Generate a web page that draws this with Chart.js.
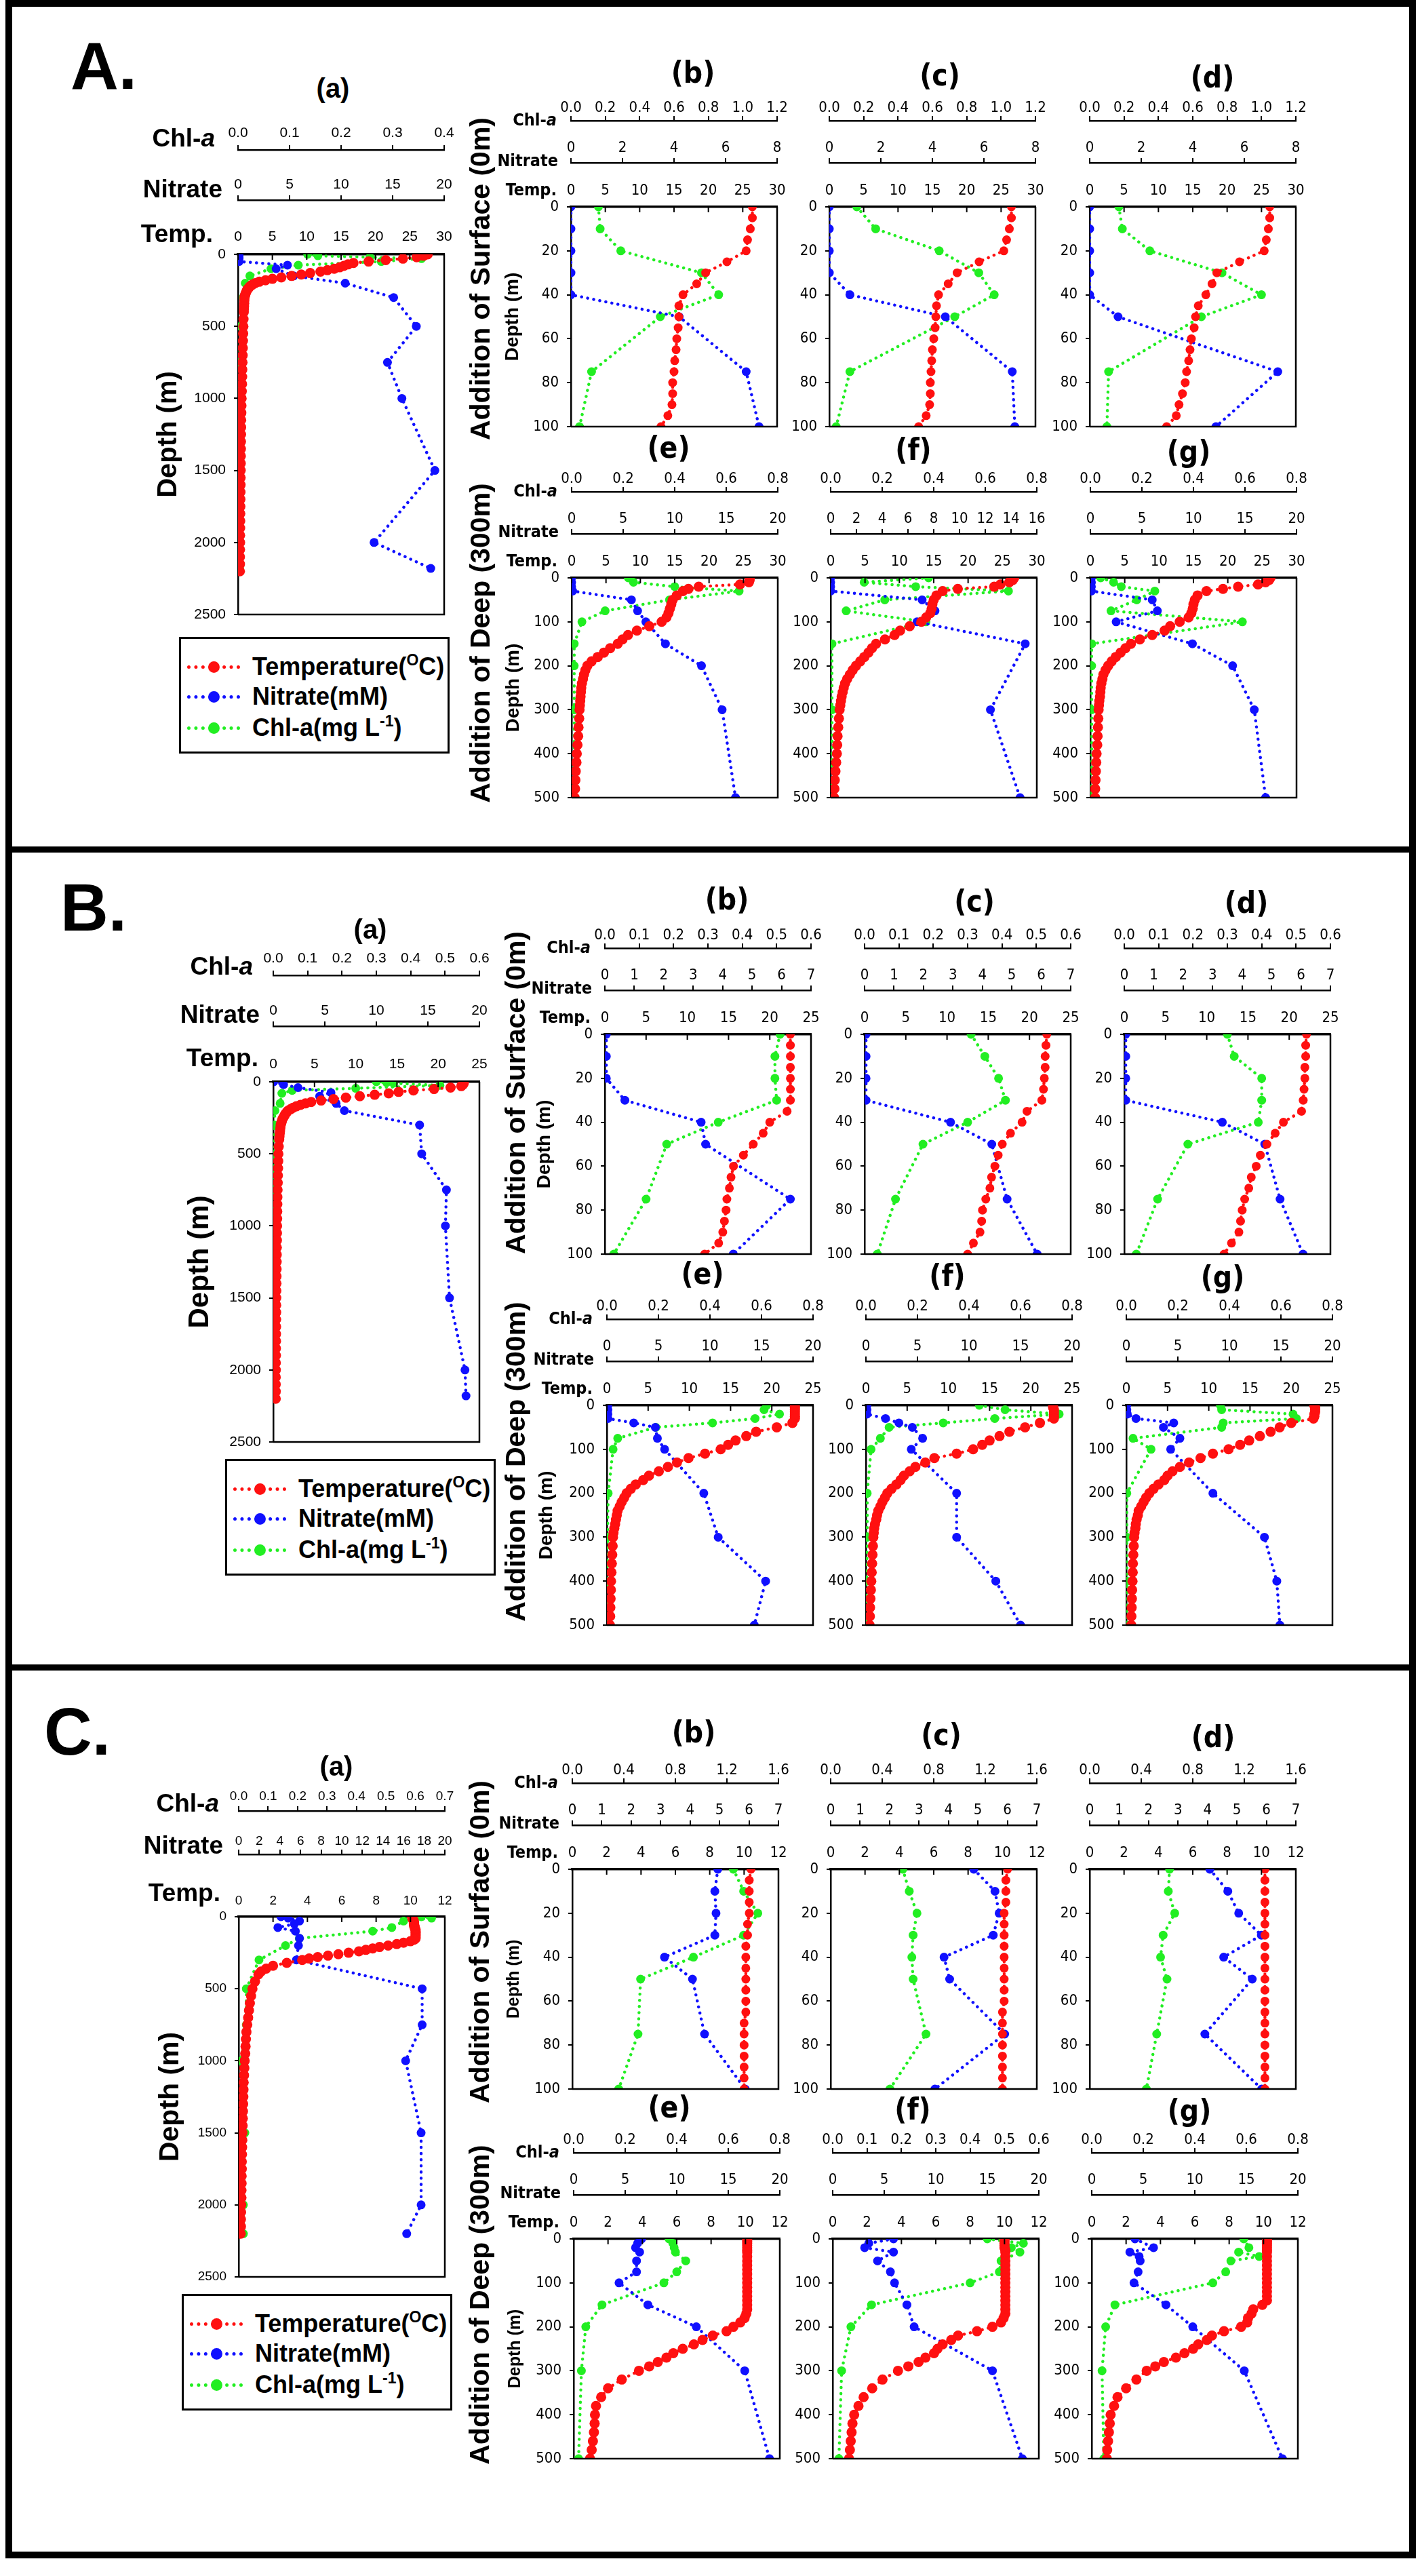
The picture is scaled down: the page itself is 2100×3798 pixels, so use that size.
<!DOCTYPE html>
<html>
<head>
<meta charset="utf-8">
<title>Depth profiles of temperature, nitrate and Chl-a</title>
<script src="https://cdn.jsdelivr.net/npm/chart.js@4.4.1/dist/chart.umd.min.js"></script>
<style>
  html, body { margin: 0; padding: 0; background: #fff; }
  #page { position: relative; width: 2100px; height: 3798px; overflow: hidden; background: #fff; }
  .bar { position: absolute; background: #000; }
  .txt { position: absolute; white-space: nowrap; line-height: 1; color: #000; font-weight: bold; transform: translate(-50%, -50%); }
  .rot { transform: translate(-50%, -50%) rotate(-90deg); }
  canvas { position: absolute; }
  .legend { position: absolute; border: 3px solid #000; box-sizing: border-box; background: #fff; width: 399px; height: 172px; }
  .leg-line { position: absolute; height: 0; width: 78px; border-top: 5px dotted; }
  .leg-dot { position: absolute; width: 17px; height: 17px; border-radius: 50%; }
  .leg-text { position: absolute; font: bold 36px "Liberation Sans", Arial, sans-serif; line-height: 1; white-space: nowrap; transform: translateY(-50%); }
  .leg-text sup { font-size: 23px; vertical-align: 14px; line-height: 0; }
</style>
</head>
<body>
<div id="page"></div>
<script>
// ---------- depth grids (m) ----------
const Z_SURF = [0, 10, 20, 30, 40, 50, 75, 100];
const Z_SURF_T = [0, 5, 10, 15, 20, 25, 30, 35, 40, 45, 50, 55, 60, 65, 70, 75, 80, 85, 90, 95, 100];
const Z_DEEP_T = [0, 5, 10, 15, 20, 25, 30,
  40, 50, 60, 70, 80, 90, 100, 110, 120, 130,
  140, 150, 160, 170, 180, 190, 200, 210, 220, 230,
  240, 250, 260, 270, 280, 290, 300,
  320, 340, 360, 380, 400, 420, 440, 460, 480, 500];
const Z_PROF_T = [0, 10, 20, 30, 40, 50, 60, 70, 80, 90,
  100, 110, 120, 130, 140, 150, 160, 170, 180, 190,
  200, 210, 220, 230, 240, 250, 260, 270, 280, 290,
  300, 320, 340, 360, 380, 400, 450, 500,
  550, 600, 650, 700, 750, 800, 850, 900, 950, 1000,
  1050, 1100, 1150, 1200, 1250, 1300, 1350, 1400, 1450, 1500,
  1550, 1600, 1650, 1700, 1750, 1800, 1850, 1900, 1950, 2000,
  2050, 2100, 2150, 2200];
const Z_A_PROF = [0, 10, 20, 30, 50, 75, 100, 150, 200, 300, 500, 750, 1000, 1500, 2000, 2180];
const Z_B_PROF_N = [0, 20, 40, 75, 100, 150, 200, 300, 500, 750, 1000, 1500, 2000, 2180];
const Z_B_PROF_C = [0, 5, 10, 25, 45, 60, 80, 150, 200, 300, 500, 750, 1000, 1500, 2000, 2180];
const Z_C_PROF_N = [0, 10, 30, 50, 75, 100, 150, 200, 300, 500, 750, 1000, 1500, 2000, 2200];
const Z_C_PROF_C = [0, 10, 30, 75, 100, 150, 200, 300, 500, 750, 1000, 1500, 2000, 2200];
const Z_A_DEEP = [0, 10, 20, 30, 50, 75, 100, 150, 200, 300, 500];
const Z_A_DEEP_F = [0, 10, 20, 30, 50, 75, 100, 150, 300, 500];
const Z_B_DEEP = [0, 10, 20, 30, 40, 50, 75, 100, 200, 300, 400, 500];
const Z_C_DEEP = [0, 10, 20, 30, 50, 75, 100, 150, 200, 300, 500];
const Z_C_DEEP_G = [0, 20, 30, 40, 50, 75, 100, 150, 200, 300, 500];

// ---------- tick labels ----------
const T_0_30 = [0, 5, 10, 15, 20, 25, 30];
const T_0_25 = [0, 5, 10, 15, 20, 25];
const T_0_12 = [0, 2, 4, 6, 8, 10, 12];
const N_0_8 = [0, 2, 4, 6, 8];
const N_0_16 = [0, 2, 4, 6, 8, 10, 12, 14, 16];
const N_0_20 = [0, 5, 10, 15, 20];
const N_0_20_BY2 = [0, 2, 4, 6, 8, 10, 12, 14, 16, 18, 20];
const N_0_7 = [0, 1, 2, 3, 4, 5, 6, 7];
const C_0_04 = [0, 0.1, 0.2, 0.3, 0.4];
const C_0_06 = [0, 0.1, 0.2, 0.3, 0.4, 0.5, 0.6];
const C_0_07 = [0, 0.1, 0.2, 0.3, 0.4, 0.5, 0.6, 0.7];
const C_0_08 = [0, 0.2, 0.4, 0.6, 0.8];
const C_0_12 = [0, 0.2, 0.4, 0.6, 0.8, 1.0, 1.2];
const C_0_16 = [0, 0.4, 0.8, 1.2, 1.6];
const D_PROF = [0, 500, 1000, 1500, 2000, 2500];
const D_SURF = [0, 20, 40, 60, 80, 100];
const D_DEEP = [0, 100, 200, 300, 400, 500];

// ---------- A : profiles ----------
const A_a_t = [27.6, 27.0, 26.0, 24.0, 21.5, 19.0, 16.8, 16.0, 15.4, 14.8,
  14.0, 13.0, 12.0, 10.5, 9.2, 7.8, 6.3, 5.0, 4.0, 3.1,
  2.5, 2.1, 1.8, 1.6, 1.4, 1.3, 1.2, 1.12, 1.05, 1.0,
  0.95, 0.92, 0.9, 0.88, 0.86, 0.84, 0.8, 0.78,
  0.75, 0.72, 0.7, 0.68, 0.65, 0.62, 0.6, 0.58, 0.55, 0.52,
  0.5, 0.48, 0.46, 0.45, 0.44, 0.43, 0.42, 0.41, 0.4, 0.39,
  0.38, 0.37, 0.36, 0.35, 0.34, 0.33, 0.32, 0.31, 0.3, 0.3,
  0.29, 0.28, 0.28, 0.27];
const A_a_no3 = [0.1, 0.1, 0.1, 0.1, 0.1, 4.8, 3.7, 5.4, 10.4, 15.1, 17.3, 14.5, 15.9, 19.1, 13.2, 18.7];
const A_a_chl = [0.135, 0.155, 0.256, 0.356, 0.278, 0.117, 0.064, 0.023, 0.014, 0.01, 0.005, 0.003, 0.003, 0.003, 0.003, 0.003];

const A_b_t = [26.4, 26.4, 26.1, 25.7, 25.5, 22.7, 19.6, 18.3, 16.3, 15.7, 15.7, 15.6, 15.4, 15.3, 15.1, 15.0, 14.8, 14.8, 14.7, 14.1, 13.1];
const A_b_no3 = [0, 0, 0, 0, 0, 4.2, 6.8, 7.3];
const A_b_chl = [0.16, 0.17, 0.29, 0.76, 0.86, 0.52, 0.12, 0.05];
const A_c_t = [26.5, 26.5, 26.2, 25.8, 25.4, 21.8, 18.6, 17.3, 15.9, 15.6, 15.5, 15.4, 15.2, 15.0, 14.9, 14.8, 14.7, 14.7, 14.6, 14.1, 13.0];
const A_c_no3 = [0, 0, 0, 0, 0.8, 4.5, 7.1, 7.2];
const A_c_chl = [0.16, 0.27, 0.64, 0.87, 0.96, 0.73, 0.12, 0.04];
const A_d_t = [26.2, 26.2, 26.0, 25.7, 25.4, 21.8, 18.5, 17.8, 16.9, 15.8, 15.4, 15.2, 14.8, 14.6, 14.4, 14.1, 13.9, 13.5, 13.0, 12.6, 11.2];
const A_d_no3 = [0, 0, 0, 0, 0, 1.1, 7.3, 4.9];
const A_d_chl = [0.17, 0.19, 0.35, 0.77, 1.0, 0.65, 0.11, 0.1];

const A_e_t = [25.9, 25.9, 25.8, 24.5, 18.5, 17.0, 16.2,
  15.3, 14.7, 14.5, 14.3, 14.1, 13.8, 13.1, 11.3, 9.5, 8.2,
  7.4, 6.7, 5.6, 4.7, 3.8, 2.9, 2.3, 2.0, 1.8, 1.65,
  1.5, 1.4, 1.35, 1.3, 1.25, 1.2, 1.15,
  1.1, 1.0, 0.95, 0.85, 0.75, 0.7, 0.6, 0.55, 0.5, 0.45];
const A_e_no3 = [0, 0, 0, 0.1, 5.8, 6.4, 7.2, 9.1, 12.6, 14.6, 15.9];
const A_e_chl = [0.22, 0.24, 0.40, 0.65, 0.38, 0.13, 0.04, 0.01, 0.01, 0.01, 0.01];
const A_f_t = [26.7, 26.5, 26.0, 24.7, 23.8, 18.5, 16.3,
  15.4, 15.0, 14.8, 14.7, 14.5, 13.9, 13.2, 11.5, 10.1, 9.3,
  7.9, 6.6, 6.0, 5.5, 4.9, 4.3, 3.7, 3.2, 2.8, 2.4,
  2.1, 1.9, 1.75, 1.6, 1.5, 1.4, 1.3,
  1.2, 1.1, 1.0, 0.95, 0.9, 0.8, 0.7, 0.6, 0.55, 0.5];
const A_f_no3 = [0, 0, 0, 0, 7.1, 8.1, 6.7, 15.1, 12.4, 14.7];
const A_f_chl = [0.38, 0.13, 0.33, 0.69, 0.21, 0.06, 0.37, 0.005, 0.005, 0.005];
const A_g_t = [26.2, 26.0, 25.5, 24.4, 21.5, 19.3, 16.9,
  15.6, 15.2, 15.0, 14.9, 14.7, 14.3, 13.0, 11.6, 10.8, 9.0,
  7.2, 5.9, 5.1, 4.4, 3.7, 3.1, 2.6, 2.2, 1.9, 1.75,
  1.6, 1.5, 1.45, 1.4, 1.3, 1.25, 1.2,
  1.15, 1.1, 1.05, 1.0, 0.9, 0.85, 0.8, 0.75, 0.7, 0.7];
const A_g_no3 = [0.1, 0.1, 0.1, 0.1, 6.0, 6.5, 2.5, 9.9, 13.8, 15.9, 17.0];
const A_g_chl = [0.04, 0.09, 0.12, 0.25, 0.18, 0.08, 0.59, 0.005, 0.005, 0.005, 0.005];

// ---------- B ----------
const B_a_t = [23.1, 23.1, 23.0, 22.8, 21.5, 19.5, 17.0, 15.2, 14.0, 12.3,
  10.5, 8.8, 7.3, 5.8, 4.6, 3.9, 3.3, 2.8, 2.4, 2.1,
  1.8, 1.65, 1.5, 1.4, 1.3, 1.2, 1.1, 1.05, 1.0, 0.95,
  0.9, 0.86, 0.82, 0.78, 0.75, 0.72, 0.66, 0.62,
  0.6, 0.58, 0.56, 0.54, 0.52, 0.5, 0.49, 0.48, 0.47, 0.46,
  0.45, 0.44, 0.43, 0.42, 0.41, 0.4, 0.39, 0.38, 0.37, 0.36,
  0.35, 0.35, 0.34, 0.34, 0.33, 0.33, 0.32, 0.32, 0.31, 0.31,
  0.3, 0.3, 0.3, 0.3];
const B_a_no3 = [0.05, 1.0, 2.4, 5.6, 4.5, 6.1, 6.9, 14.2, 14.4, 16.8, 16.7, 17.1, 18.6, 18.7];
const B_a_chl = [0.30, 0.33, 0.35, 0.485, 0.24, 0.055, 0.025, 0.02, 0.005, 0.003, 0.003, 0.002, 0.002, 0.002, 0.002, 0.002];

const B_b_t = [22.5, 22.5, 22.5, 22.5, 22.5, 22.5, 22.5, 22.1, 20.0, 19.2, 18.0, 16.8, 15.6, 15.3, 15.1, 14.8, 14.7, 14.5, 14.3, 13.8, 12.1];
const B_b_no3 = [0.05, 0.05, 0.05, 0.68, 3.27, 3.42, 6.3, 4.36];
const B_b_chl = [0.51, 0.495, 0.495, 0.50, 0.33, 0.18, 0.12, 0.026];
const B_c_t = [22.1, 22.0, 21.9, 21.9, 21.8, 21.7, 21.5, 19.7, 19.1, 17.7, 16.7, 16.2, 15.8, 15.4, 15.2, 14.7, 14.3, 14.2, 14.0, 13.2, 12.5];
const B_c_no3 = [0.05, 0.05, 0.05, 0.05, 2.92, 4.32, 4.84, 5.86];
const B_c_chl = [0.31, 0.35, 0.39, 0.41, 0.30, 0.17, 0.09, 0.037];
const B_d_t = [22.1, 22.0, 22.0, 21.9, 21.9, 21.8, 21.7, 21.5, 19.3, 18.3, 17.3, 16.5, 16.0, 15.4, 15.1, 14.6, 14.3, 14.1, 13.9, 13.0, 12.1];
const B_d_no3 = [0.05, 0.05, 0.05, 0.05, 3.33, 4.77, 5.29, 6.07];
const B_d_chl = [0.30, 0.32, 0.40, 0.40, 0.39, 0.185, 0.097, 0.035];

const B_e_t = [22.8, 22.8, 22.8, 22.8, 22.8, 22.8, 22.8,
  22.5, 20.6, 18.1, 16.9, 15.6, 14.7, 13.8, 11.9, 9.9, 8.5,
  7.4, 6.3, 5.1, 4.4, 3.5, 2.9, 2.4, 2.1, 1.8, 1.55,
  1.3, 1.2, 1.1, 1.0, 0.9, 0.8, 0.74,
  0.7, 0.65, 0.6, 0.55, 0.5, 0.48, 0.45, 0.42, 0.4, 0.37];
const B_e_no3 = [0.1, 0.1, 0.1, 0.1, 2.6, 4.7, 4.9, 5.6, 9.4, 10.8, 15.4, 14.3];
const B_e_chl = [0.62, 0.61, 0.67, 0.575, 0.41, 0.19, 0.042, 0.024, 0.005, 0.002, 0.002, 0.002];
const B_f_t = [22.7, 22.7, 22.8, 22.8, 22.8, 22.8, 22.8,
  21.1, 19.3, 17.4, 16.2, 15.0, 14.1, 13.0, 11.0, 8.3, 7.2,
  6.0, 5.3, 4.6, 4.2, 3.7, 3.1, 2.6, 2.3, 2.0, 1.75,
  1.5, 1.35, 1.25, 1.1, 1.0, 0.95, 0.9,
  0.85, 0.8, 0.75, 0.7, 0.65, 0.6, 0.55, 0.5, 0.48, 0.45];
const B_f_no3 = [0.1, 0.1, 0.1, 1.9, 3.2, 4.5, 5.5, 4.4, 8.8, 8.8, 12.6, 15.0];
const B_f_chl = [0.44, 0.54, 0.75, 0.50, 0.30, 0.09, 0.056, 0.02, 0.005, 0.005, 0.002, 0.005];
const B_g_t = [22.8, 22.9, 22.9, 22.9, 22.8, 22.8, 22.7,
  20.0, 18.6, 17.5, 16.2, 14.9, 13.8, 12.4, 10.5, 9.0, 7.6,
  6.5, 5.6, 5.0, 4.6, 3.9, 3.3, 2.8, 2.4, 2.1, 1.8,
  1.5, 1.4, 1.25, 1.15, 1.1, 1.0, 0.95,
  0.9, 0.85, 0.8, 0.78, 0.75, 0.7, 0.68, 0.65, 0.62, 0.6];
const B_g_no3 = [0.05, 0.05, 0.1, 0.94, 4.6, 3.6, 5.2, 4.3, 8.4, 13.4, 14.6, 14.9];
const B_g_chl = [0.365, 0.37, 0.647, 0.66, 0.376, 0.37, 0.026, 0.096, 0.002, 0.002, 0.002, 0.002];

// ---------- C ----------
const C_a_t = [10.1, 10.1, 10.15, 10.2, 10.2, 10.2, 10.2, 10.25, 10.25, 10.3,
  10.3, 10.3, 10.3, 10.3, 10.3, 10.3, 10.2, 10.0, 9.6, 9.2,
  8.7, 8.2, 7.8, 7.4, 7.0, 6.4, 5.8, 5.2, 4.6, 4.1,
  3.7, 2.8, 2.0, 1.6, 1.3, 1.15, 0.95, 0.8,
  0.72, 0.65, 0.6, 0.55, 0.5, 0.45, 0.42, 0.4, 0.38, 0.35,
  0.33, 0.31, 0.29, 0.28, 0.27, 0.26, 0.25, 0.24, 0.23, 0.22,
  0.21, 0.2, 0.19, 0.18, 0.18, 0.17, 0.17, 0.16, 0.16, 0.15,
  0.14, 0.13, 0.13, 0.12];
const C_a_no3 = [4.1, 4.8, 5.9, 5.4, 3.8, 5.5, 5.9, 5.8, 5.6, 17.8, 17.8, 16.2, 17.7, 17.7, 16.3];
const C_a_chl = [0.62, 0.655, 0.56, 0.52, 0.455, 0.206, 0.159, 0.069, 0.026, 0.026, 0.008, 0.021, 0.016, 0.016];

const C_b_t = [10.4, 10.3, 10.3, 10.3, 10.3, 10.2, 10.2, 10.1, 10.1, 10.1, 10.1, 10.1, 10.1, 10.1, 10.0, 10.0, 10.0, 10.0, 10.0, 10.0, 10.0];
const C_b_no3 = [4.94, 4.84, 4.88, 4.84, 3.13, 4.08, 4.49, 5.87];
const C_b_chl = [1.25, 1.33, 1.44, 1.33, 0.94, 0.53, 0.51, 0.36];
const C_c_t = [10.3, 10.2, 10.2, 10.2, 10.1, 10.1, 10.1, 10.1, 10.1, 10.1, 10.1, 10.1, 10.1, 10.0, 10.0, 10.0, 10.0, 10.0, 10.0, 10.0, 10.0];
const C_c_no3 = [4.86, 5.58, 5.72, 5.52, 3.85, 4.04, 5.91, 3.54];
const C_c_chl = [0.56, 0.61, 0.67, 0.64, 0.63, 0.64, 0.74, 0.46];
const C_d_t = [10.2, 10.2, 10.2, 10.2, 10.2, 10.2, 10.2, 10.2, 10.2, 10.2, 10.2, 10.2, 10.2, 10.2, 10.2, 10.2, 10.2, 10.2, 10.2, 10.2, 10.2];
const C_d_no3 = [4.08, 4.69, 5.06, 5.83, 4.55, 5.52, 3.91, 5.84];
const C_d_chl = [0.62, 0.61, 0.66, 0.57, 0.55, 0.60, 0.52, 0.44];

const C_e_t = [10.1, 10.1, 10.1, 10.1, 10.1, 10.1, 10.1,
  10.1, 10.1, 10.1, 10.1, 10.1, 10.1, 10.1, 10.1, 10.1, 10.1,
  10.1, 10.1, 10.1, 10.05, 9.95, 9.7, 9.3, 8.9, 8.1, 7.5,
  7.0, 6.35, 5.8, 5.4, 4.9, 4.4, 3.8,
  2.8, 2.0, 1.6, 1.3, 1.24, 1.22, 1.18, 1.12, 1.05, 0.95];
const C_e_no3 = [6.6, 6.2, 6.0, 6.4, 6.1, 6.1, 4.4, 7.2, 11.9, 16.6, 19.0];
const C_e_chl = [0.37, 0.385, 0.39, 0.395, 0.435, 0.40, 0.35, 0.11, 0.047, 0.03, 0.019];
const C_f_t = [10.0, 10.0, 10.0, 10.0, 10.0, 10.05, 10.05,
  10.05, 10.05, 10.05, 10.05, 10.05, 10.05, 10.05, 10.05, 10.05, 10.05,
  10.05, 10.05, 10.05, 10.05, 9.95, 9.8, 9.3, 8.4, 7.3, 6.9,
  6.4, 6.1, 5.9, 5.4, 5.0, 4.4, 3.8,
  2.9, 2.3, 1.8, 1.5, 1.25, 1.15, 1.1, 1.05, 1.0, 0.95];
const C_f_no3 = [5.9, 3.5, 3.1, 5.9, 4.35, 5.6, 6.0, 7.2, 7.9, 15.5, 18.4];
const C_f_chl = [0.45, 0.555, 0.52, 0.545, 0.49, 0.485, 0.40, 0.113, 0.053, 0.026, 0.018];
const C_g_t = [10.2, 10.2, 10.2, 10.2, 10.2, 10.2, 10.2,
  10.2, 10.2, 10.2, 10.2, 10.2, 10.2, 10.2, 10.2, 10.2, 10.2,
  10.2, 9.93, 9.4, 9.3, 9.1, 9.05, 8.7, 7.7, 7.0, 6.7,
  6.2, 5.9, 5.4, 4.9, 4.2, 3.7, 3.2,
  2.6, 2.0, 1.5, 1.3, 1.1, 1.05, 1.0, 0.95, 0.9, 0.88];
const C_g_no3 = [4.2, 6.0, 3.7, 4.6, 4.7, 4.5, 4.1, 7.2, 9.8, 14.8, 18.5];
const C_g_chl = [0.59, 0.61, 0.57, 0.65, 0.54, 0.52, 0.47, 0.09, 0.054, 0.04, 0.047];

// ---------- which arrays go in which panel ----------
// [tempDepth, temp, no3Depth, no3, chlDepth, chl, tempTicks, no3Ticks, chlTicks, depthTicks]
const PANEL_DATA = {
  Aa: [Z_PROF_T, A_a_t, Z_A_PROF, A_a_no3, Z_A_PROF, A_a_chl, T_0_30, N_0_20, C_0_04, D_PROF],
  Ab: [Z_SURF_T, A_b_t, Z_SURF, A_b_no3, Z_SURF, A_b_chl, T_0_30, N_0_8, C_0_12, D_SURF],
  Ac: [Z_SURF_T, A_c_t, Z_SURF, A_c_no3, Z_SURF, A_c_chl, T_0_30, N_0_8, C_0_12, D_SURF],
  Ad: [Z_SURF_T, A_d_t, Z_SURF, A_d_no3, Z_SURF, A_d_chl, T_0_30, N_0_8, C_0_12, D_SURF],
  Ae: [Z_DEEP_T, A_e_t, Z_A_DEEP, A_e_no3, Z_A_DEEP, A_e_chl, T_0_30, N_0_20, C_0_08, D_DEEP],
  Af: [Z_DEEP_T, A_f_t, Z_A_DEEP_F, A_f_no3, Z_A_DEEP_F, A_f_chl, T_0_30, N_0_16, C_0_08, D_DEEP],
  Ag: [Z_DEEP_T, A_g_t, Z_A_DEEP, A_g_no3, Z_A_DEEP, A_g_chl, T_0_30, N_0_20, C_0_08, D_DEEP],
  Ba: [Z_PROF_T, B_a_t, Z_B_PROF_N, B_a_no3, Z_B_PROF_C, B_a_chl, T_0_25, N_0_20, C_0_06, D_PROF],
  Bb: [Z_SURF_T, B_b_t, Z_SURF, B_b_no3, Z_SURF, B_b_chl, T_0_25, N_0_7, C_0_06, D_SURF],
  Bc: [Z_SURF_T, B_c_t, Z_SURF, B_c_no3, Z_SURF, B_c_chl, T_0_25, N_0_7, C_0_06, D_SURF],
  Bd: [Z_SURF_T, B_d_t, Z_SURF, B_d_no3, Z_SURF, B_d_chl, T_0_25, N_0_7, C_0_06, D_SURF],
  Be: [Z_DEEP_T, B_e_t, Z_B_DEEP, B_e_no3, Z_B_DEEP, B_e_chl, T_0_25, N_0_20, C_0_08, D_DEEP],
  Bf: [Z_DEEP_T, B_f_t, Z_B_DEEP, B_f_no3, Z_B_DEEP, B_f_chl, T_0_25, N_0_20, C_0_08, D_DEEP],
  Bg: [Z_DEEP_T, B_g_t, Z_B_DEEP, B_g_no3, Z_B_DEEP, B_g_chl, T_0_25, N_0_20, C_0_08, D_DEEP],
  Ca: [Z_PROF_T, C_a_t, Z_C_PROF_N, C_a_no3, Z_C_PROF_C, C_a_chl, T_0_12, N_0_20_BY2, C_0_07, D_PROF],
  Cb: [Z_SURF_T, C_b_t, Z_SURF, C_b_no3, Z_SURF, C_b_chl, T_0_12, N_0_7, C_0_16, D_SURF],
  Cc: [Z_SURF_T, C_c_t, Z_SURF, C_c_no3, Z_SURF, C_c_chl, T_0_12, N_0_7, C_0_16, D_SURF],
  Cd: [Z_SURF_T, C_d_t, Z_SURF, C_d_no3, Z_SURF, C_d_chl, T_0_12, N_0_7, C_0_16, D_SURF],
  Ce: [Z_DEEP_T, C_e_t, Z_C_DEEP, C_e_no3, Z_C_DEEP, C_e_chl, T_0_12, N_0_20, C_0_08, D_DEEP],
  Cf: [Z_DEEP_T, C_f_t, Z_C_DEEP, C_f_no3, Z_C_DEEP, C_f_chl, T_0_12, N_0_20, C_0_06, D_DEEP],
  Cg: [Z_DEEP_T, C_g_t, Z_C_DEEP_G, C_g_no3, Z_C_DEEP_G, C_g_chl, T_0_12, N_0_20, C_0_08, D_DEEP]
};

// ---------- page layout ----------
const RED = '#ff1010', BLUE = '#1010ff', GREEN = '#22ee22';
const ARIAL = '"Liberation Sans", Arial, sans-serif';
const NARROW = '"Liberation Sans Narrow", "Arial Narrow", "DejaVu Sans Condensed", sans-serif';

// plot-area corners: [section, panel, kind, left, top]
const PLOTS = [
  ['A', 'a', 'prof', 351, 375], ['A', 'b', 'surf', 842, 305], ['A', 'c', 'surf', 1223, 305], ['A', 'd', 'surf', 1607, 305],
  ['A', 'e', 'deep', 843, 852], ['A', 'f', 'deep', 1225, 852], ['A', 'g', 'deep', 1608, 852],
  ['B', 'a', 'prof', 403, 1595], ['B', 'b', 'surf', 892, 1525], ['B', 'c', 'surf', 1275, 1525], ['B', 'd', 'surf', 1658, 1525],
  ['B', 'e', 'deep', 895, 2072], ['B', 'f', 'deep', 1277, 2072], ['B', 'g', 'deep', 1661, 2072],
  ['C', 'a', 'prof', 352, 2826], ['C', 'b', 'surf', 844, 2756], ['C', 'c', 'surf', 1225, 2756], ['C', 'd', 'surf', 1607, 2756],
  ['C', 'e', 'deep', 846, 3301], ['C', 'f', 'deep', 1228, 3301], ['C', 'g', 'deep', 1610, 3301]
];

const SEC_STYLE = {
  A: {hT: 80, hN: 74, tf: 21, pads: [7, 5, 15], off: [-15, -14, -28], gap: [34, 23, 37], dOff: 102, dFont: 40, sdOff: 86, sdFont: 28},
  B: {hT: 82, hN: 75, tf: 21, pads: [7, 5, 15], off: [-11, -15, -33], gap: [30, 20, 22], dOff: 108, dFont: 42, sdOff: 89, sdFont: 28},
  C: {hT: 92, hN: 64, tf: 19, pads: [5, 3, 14], off: [-9, -11, -33], gap: [29, 23, 27], dOff: 100, dFont: 41, sdOff: 86, sdFont: 25}
};

const page = document.getElementById('page');

function put(cls, html, x, y, font, extra) {
  const d = document.createElement('div');
  d.className = cls;
  d.innerHTML = html;
  d.style.left = x + 'px';
  d.style.top = y + 'px';
  d.style.font = font;
  if (extra) Object.assign(d.style, extra);
  page.appendChild(d);
  return d;
}

function bar(x, y, w, h) {
  const d = document.createElement('div');
  d.className = 'bar';
  Object.assign(d.style, {left: x + 'px', top: y + 'px', width: w + 'px', height: h + 'px'});
  page.appendChild(d);
}

// draws "Chl-a" etc. right-aligned, allowing mixed fonts
function drawName(ctx, parts, right, y) {
  let w = 0;
  parts.forEach(p => { ctx.font = p[1]; w += ctx.measureText(p[0]).width; });
  let x = right - w;
  ctx.textAlign = 'left';
  parts.forEach(p => { ctx.font = p[1]; ctx.fillText(p[0], x, y); x += ctx.measureText(p[0]).width; });
}

const decor = {
  id: 'decor',
  afterDraw(chart, args, o) {
    const {ctx, chartArea: a, scales} = chart;
    ctx.save();
    ctx.strokeStyle = '#000';
    ctx.lineWidth = 2.5;
    ctx.beginPath();
    ctx.moveTo(a.left, a.bottom); ctx.lineTo(a.right, a.bottom); ctx.lineTo(a.right, a.top);
    ctx.stroke();
    // temperature ticks point into the plot
    const xt = scales.xT;
    ctx.lineWidth = 2;
    xt.ticks.forEach(t => {
      const x = xt.getPixelForValue(t.value);
      ctx.beginPath(); ctx.moveTo(x, a.top); ctx.lineTo(x, a.top + 8); ctx.stroke();
    });
    ctx.fillStyle = '#000';
    ctx.textBaseline = 'middle';
    if (o.names) {
      drawName(ctx, [['Chl-', o.nf], ['a', o.nfi]], a.left - o.gap[0], scales.xC.bottom + o.off[0]);
      drawName(ctx, [['Nitrate', o.nf]], a.left - o.gap[1], scales.xN.bottom + o.off[1]);
      drawName(ctx, [['Temp.', o.nf]], a.left - o.gap[2], a.top + o.off[2]);
      ctx.translate(a.left - o.dOff, (a.top + a.bottom) / 2);
      ctx.rotate(-Math.PI / 2);
      ctx.font = o.dFont;
      ctx.textAlign = 'center';
      ctx.fillText('Depth (m)', 0, 0);
    }
    ctx.restore();
  }
};

function series(label, color, z, v, axis, r) {
  return {
    label: label,
    data: z.map((d, i) => ({x: v[i], y: d})),
    xAxisID: axis, yAxisID: 'y',
    showLine: true,
    borderColor: color, backgroundColor: color,
    borderWidth: 4.5, borderDash: [0.1, 9], borderCapStyle: 'round',
    pointRadius: r, pointHoverRadius: r, pointBorderWidth: 0,
    pointBackgroundColor: color
  };
}

function topAxis(ticks, fmt, weight, h, font, tl, pad, bw) {
  return {
    type: 'linear', position: 'top', min: 0, max: ticks[ticks.length - 1], weight: weight,
    afterBuildTicks: ax => { ax.ticks = ticks.map(v => ({value: v})); },
    afterFit: ax => { ax.height = h; },
    grid: {display: true, drawOnChartArea: false, drawTicks: tl > 0, tickLength: tl, color: '#000', lineWidth: 2},
    border: {display: true, color: '#000', width: bw},
    ticks: {font: font, color: '#000', padding: pad, maxRotation: 0, autoSkip: false, callback: fmt}
  };
}

function makePanel(sec, key, kind, left, top) {
  const S = SEC_STYLE[sec];
  const d = PANEL_DATA[sec + key];
  const prof = kind === 'prof';
  const w = 304, h = prof ? 531 : 324;
  const hT = prof ? S.hT : 65, hN = prof ? S.hN : 62, hC = prof ? 60 : 50;
  const padL = prof ? 130 : 55, wy = prof ? 80 : 60, padR = 40, padT = 4, padB = 30;
  const cw = padL + wy + w + padR, ch = padT + hC + hN + hT + h + padB;
  const cv = document.createElement('canvas');
  cv.width = cw; cv.height = ch;
  Object.assign(cv.style, {left: (left - padL - wy) + 'px', top: (top - padT - hC - hN - hT) + 'px', width: cw + 'px', height: ch + 'px'});
  page.appendChild(cv);

  const tickFont = prof ? {family: ARIAL, size: S.tf, lineHeight: 1} : {family: NARROW, size: 22, lineHeight: 1};
  const pads = prof ? S.pads : [1, 4, 13];
  const intFmt = v => String(v);
  const decFmt = v => Number(v).toFixed(1);
  const nameSize = prof ? 37 : 25;
  const nameFam = prof ? ARIAL : NARROW;
  const showNames = prof || key === 'b' || key === 'e';
  const tempR = kind === 'surf' ? 6.5 : 7.5;

  new Chart(cv, {
    type: 'scatter',
    data: {
      datasets: [
        series('Temperature', RED, d[0], d[1], 'xT', tempR),
        series('Nitrate', BLUE, d[2], d[3], 'xN', 6.5),
        series('Chl-a', GREEN, d[4], d[5], 'xC', 6.5)
      ]
    },
    options: {
      responsive: false, animation: false, devicePixelRatio: 1,
      layout: {padding: {left: padL, right: padR, top: padT, bottom: padB}},
      plugins: {
        legend: {display: false}, tooltip: {enabled: false},
        decor: {
          names: showNames,
          nf: 'bold ' + nameSize + 'px ' + nameFam,
          nfi: 'italic bold ' + nameSize + 'px ' + nameFam,
          off: prof ? S.off : [0, -2, -24],
          gap: prof ? S.gap : [21, 19, 21],
          dOff: prof ? S.dOff : S.sdOff,
          dFont: 'bold ' + (prof ? S.dFont : S.sdFont) + 'px ' + ARIAL
        }
      },
      scales: {
        xC: topAxis(d[8], decFmt, 2, hC, tickFont, 7, pads[0], 2.5),
        xN: topAxis(d[7], intFmt, 1, hN, tickFont, 7, pads[1], 2.5),
        xT: topAxis(d[6], intFmt, 0, hT, tickFont, 0, pads[2], 3.5),
        y: {
          type: 'linear', position: 'left', reverse: true, min: 0, max: d[9][d[9].length - 1],
          afterBuildTicks: ax => { ax.ticks = d[9].map(v => ({value: v})); },
          afterFit: ax => { ax.width = wy; },
          grid: {drawOnChartArea: false, drawTicks: true, tickLength: 6, color: '#000', lineWidth: 2},
          border: {display: true, color: '#000', width: 2.5},
          ticks: {font: tickFont, color: '#000', padding: 12, autoSkip: false, callback: intFmt}
        }
      }
    },
    plugins: [decor]
  });
}

// ---------- frame ----------
bar(8, 0, 2080, 10);
bar(8, 0, 10, 3772);
bar(2078, 0, 10, 3772);
bar(8, 3762, 2080, 10);
bar(8, 1248, 2080, 9);
bar(8, 2454, 2080, 9);

// ---------- panels ----------
PLOTS.forEach(p => makePanel(p[0], p[1], p[2], p[3], p[4]));

// ---------- section letters, titles, side captions ----------
put('txt', 'A.', 153, 97, 'bold 98px ' + ARIAL);
put('txt', 'B.', 138, 1338, 'bold 98px ' + ARIAL);
put('txt', 'C.', 114, 2553, 'bold 98px ' + ARIAL);

const TITLES = [
  ['(a)', 491, 130, true], ['(b)', 1022, 106], ['(c)', 1386, 110], ['(d)', 1788, 113],
  ['(e)', 986, 659], ['(f)', 1347, 662], ['(g)', 1753, 665],
  ['(a)', 546, 1370, true], ['(b)', 1072, 1325], ['(c)', 1437, 1328], ['(d)', 1838, 1330],
  ['(e)', 1036, 1877], ['(f)', 1397, 1880], ['(g)', 1803, 1882],
  ['(a)', 496, 2604, true], ['(b)', 1023, 2553], ['(c)', 1388, 2557], ['(d)', 1789, 2560],
  ['(e)', 987, 3106], ['(f)', 1346, 3109], ['(g)', 1754, 3111]
];
TITLES.forEach(t => put('txt', t[0], t[1], t[2], t[3] ? 'bold 40px ' + ARIAL : 'bold 44px ' + NARROW));

const SIDE_CAPTIONS = [
  ['Addition of Surface (0m)', 708, 411], ['Addition of Deep (300m)', 708, 948],
  ['Addition of Surface (0m)', 760, 1611], ['Addition of Deep (300m)', 760, 2155],
  ['Addition of Surface (0m)', 707, 2863], ['Addition of Deep (300m)', 707, 3398]
];
SIDE_CAPTIONS.forEach(c => put('txt rot', c[0], c[1], c[2], 'bold 41px ' + ARIAL));

// ---------- legends ----------
const LEGEND_ITEMS = [
  [RED, 'Temperature(<sup>O</sup>C)'],
  [BLUE, 'Nitrate(mM)'],
  [GREEN, 'Chl-a(mg L<sup>-1</sup>)']
];
const LEGEND_ROWS = [41, 85, 131];

function addLegend(x, y) {
  const box = document.createElement('div');
  box.className = 'legend';
  box.style.left = x + 'px';
  box.style.top = y + 'px';
  LEGEND_ITEMS.forEach((it, i) => {
    const cy = LEGEND_ROWS[i];
    const ln = document.createElement('div');
    ln.className = 'leg-line';
    Object.assign(ln.style, {left: '9px', top: (cy - 2) + 'px', borderTopColor: it[0]});
    const dot = document.createElement('div');
    dot.className = 'leg-dot';
    Object.assign(dot.style, {left: '40px', top: (cy - 8) + 'px', background: it[0]});
    const tx = document.createElement('div');
    tx.className = 'leg-text';
    tx.innerHTML = it[1];
    Object.assign(tx.style, {left: '105px', top: cy + 'px'});
    box.appendChild(ln); box.appendChild(dot); box.appendChild(tx);
  });
  page.appendChild(box);
}
addLegend(264, 939);
addLegend(332, 2151);
addLegend(268, 3382);
</script>
</body>
</html>
